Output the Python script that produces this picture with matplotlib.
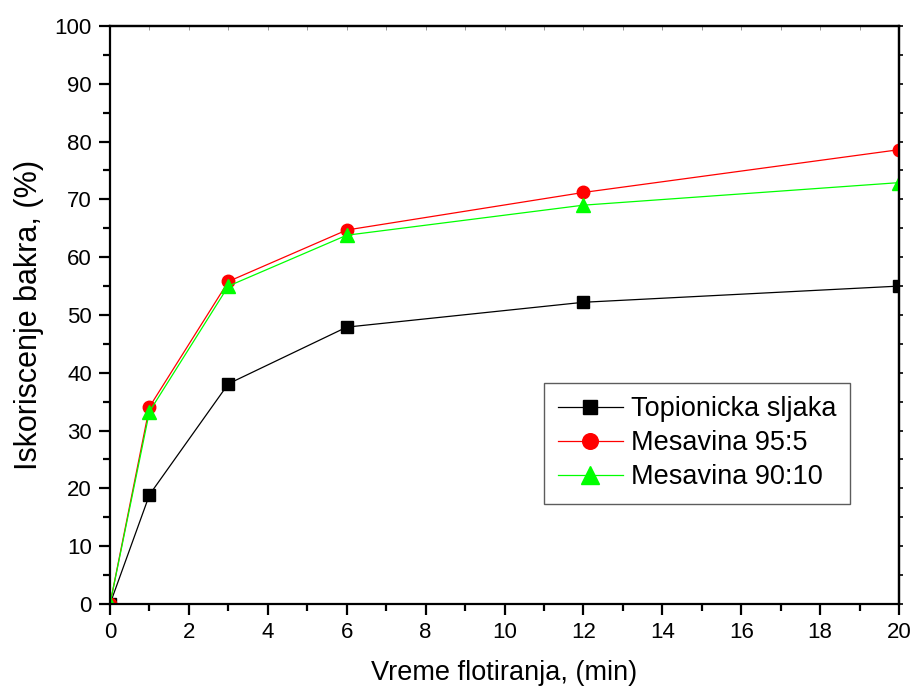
import matplotlib.pyplot as plt

plt.rcParams['font.family'] = ['Liberation Sans', 'DejaVu Sans']

# flotation time, min
time = [0, 1, 3, 6, 12, 20]

# copper recovery, %
topionicka = [0, 18.9, 38.1, 47.9, 52.2, 55.0]
mes_95_5 = [0, 34.1, 55.8, 64.7, 71.2, 78.6]
mes_90_10 = [0, 33.3, 55.0, 63.8, 69.0, 72.9]

labels = ['Topionicka sljaka', 'Mesavina 95:5', 'Mesavina 90:10']

fig = plt.figure(figsize=(9.13, 6.91), dpi=100)
ax = fig.add_axes([0.1205, 0.1259, 0.8642, 0.8365])

ax.plot(time, topionicka, color='black', marker='s', markersize=8, lw=0.9, label=labels[0])
ax.plot(time, mes_95_5, color='red', marker='o', markersize=9, lw=0.9, label=labels[1])
ax.plot(time, mes_90_10, color='#00ff00', marker='^', markersize=10, lw=0.9, label=labels[2])

ax.set_xlim(0, 20)
ax.set_ylim(0, 100)
ax.set_xticks(range(0, 21, 2))
ax.set_xticks(range(1, 20, 2), minor=True)
ax.set_yticks(range(0, 101, 10))
ax.set_yticks(range(5, 100, 10), minor=True)

for s in ax.spines.values():
    s.set_linewidth(1.6)

ax.tick_params(which='major', direction='out', length=8, width=1.6, labelsize=16, pad=5)
ax.tick_params(which='minor', direction='out', length=5, width=1.6)

# small ticks on top and right
top = ax.secondary_xaxis('top')
top.set_xticks(range(0, 21, 2))
top.set_xticks(range(1, 20, 2), minor=True)
top.tick_params(which='both', direction='in', length=3, width=0.6, colors='#888888', labeltop=False)
right = ax.secondary_yaxis('right')
right.set_yticks(range(0, 101, 10))
right.set_yticks(range(5, 100, 10), minor=True)
right.tick_params(which='both', direction='out', length=3, width=1.2, labelright=False)
top.spines['top'].set_linewidth(1.6)
right.spines['right'].set_linewidth(1.6)

ax.set_xlabel('Vreme flotiranja, (min)', fontsize=19.5, labelpad=12)
ax.set_ylabel('Iskoriscenje bakra, (%)', fontsize=22, labelpad=8)

leg = ax.legend(loc='upper left', bbox_to_anchor=(0.550, 0.383), fontsize=19.5, frameon=True,
                fancybox=False, edgecolor='#333333', markerscale=1.25, handlelength=2.4,
                handletextpad=0.3, borderpad=0.5, labelspacing=0.3, borderaxespad=0)
leg.get_frame().set_linewidth(1.0)

fig.savefig('out.png', dpi=100)
